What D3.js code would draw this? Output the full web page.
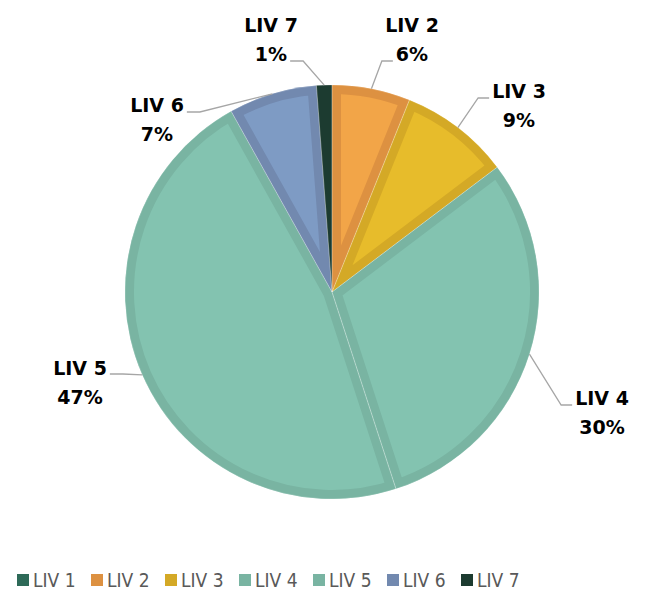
<!DOCTYPE html>
<html>
<head>
<meta charset="utf-8">
<script src="https://cdn.jsdelivr.net/npm/d3@7"></script>
<style>
  body { margin: 0; background: #fff; }
  svg { display: block; }
</style>
</head>
<body>
<div id="pie"></div>
<script>
// Chart data
const categories = ["LIV 1", "LIV 2", "LIV 3", "LIV 4", "LIV 5", "LIV 6", "LIV 7"];
const shares = [0, 6.1, 8.6, 30.3, 46.9, 6.9, 1.2];
const shareLabels = ["0%", "6%", "9%", "30%", "47%", "7%", "1%"];

// Colours: light fill and darker border per slice
const fillColors = ["#2e6a58", "#f2a548", "#e7bc2b", "#83c3b0", "#83c3b0", "#7e9bc4", "#1c3d31"];
const edgeColors = ["#2e6a58", "#dd9141", "#d4a926", "#79b4a2", "#79b4a2", "#7289af", "#1c3b30"];

// Label placement (text centre, first baseline, side of the leader)
const labelLayout = [
  null,
  { x: 412, y: 32, lineY: 61, row: 1, side: "left" },
  { x: 519, y: 98, lineY: 98, row: 0, side: "left" },
  { x: 602, y: 405, lineY: 405, row: 0, side: "left" },
  { x: 80, y: 375, lineY: 374, row: 0, side: "right" },
  { x: 157, y: 112, lineY: 112, row: 0, side: "right" },
  { x: 271, y: 32, lineY: 61, row: 1, side: "right" }
];

function buildPie() {
  const width = 646;
  const height = 590;
  const cx = 332, cy = 292, radius = 207;
  const border = 9;

  const svg = d3.select("#pie")
    .append("svg")
    .attr("width", width)
    .attr("height", height);

  const data = categories.map((c, i) => ({ name: c, value: shares[i], label: shareLabels[i], i: i }));

  const pie = d3.pie().sort(null).value((d) => d.value);
  const arc = d3.arc().innerRadius(0).outerRadius(radius);
  const arcs = pie(data).filter((d) => d.value > 0);

  const g = svg.append("g").attr("transform", `translate(${cx},${cy})`);
  const defs = svg.append("defs");

  defs.selectAll("clipPath")
    .data(arcs)
    .enter()
    .append("clipPath")
    .attr("id", (d) => "clip" + d.data.i)
    .append("path")
    .attr("d", arc);

  g.selectAll(".slice")
    .data(arcs)
    .enter()
    .append("path")
    .attr("class", "slice")
    .attr("d", arc)
    .attr("clip-path", (d) => `url(#clip${d.data.i})`)
    .style("fill", (d) => fillColors[d.data.i])
    .style("stroke", (d) => edgeColors[d.data.i])
    .style("stroke-width", border * 2)
    .style("stroke-linejoin", "miter");

  // thin separators between slices
  g.selectAll(".sep")
    .data(arcs)
    .enter()
    .append("path")
    .attr("class", "sep")
    .attr("d", arc)
    .style("fill", "none")
    .style("stroke", "#ffffff")
    .style("stroke-opacity", 0.3)
    .style("stroke-width", 0.7);

  // Data labels with leader lines
  const labels = svg.append("g")
    .style("font-family", "'DejaVu Sans', Verdana, sans-serif")
    .style("font-weight", "bold")
    .style("font-size", "19px")
    .style("fill", "#000");

  arcs.forEach((d) => {
    const lay = labelLayout[d.data.i];
    if (!lay) return;
    const t = labels.append("text").attr("text-anchor", "middle");
    const l1 = t.append("tspan").attr("x", lay.x).attr("y", lay.y).text(d.data.name);
    const l2 = t.append("tspan").attr("x", lay.x).attr("y", lay.y + 29).text(d.data.label);

    const rowNode = lay.row === 0 ? l1.node() : l2.node();
    const w = rowNode.getComputedTextLength();
    const attachX = lay.side === "left" ? lay.x - w / 2 - 3 : lay.x + w / 2 + 3;
    const elbowX = lay.side === "left" ? attachX - 11 : attachX + 13;

    const mid = (d.startAngle + d.endAngle) / 2;
    const ex = cx + radius * Math.sin(mid);
    const ey = cy - radius * Math.cos(mid);

    svg.append("path")
      .attr("d", d3.line()([[attachX, lay.lineY], [elbowX, lay.lineY], [ex, ey]]))
      .style("fill", "none")
      .style("stroke", "#a6a6a6")
      .style("stroke-width", 1.3);
  });

  // Legend
  const legendX = d3.scaleBand()
    .domain(categories)
    .range([17, 17 + 74 * categories.length]);

  const legend = svg.append("g")
    .attr("class", "legend")
    .selectAll("g")
    .data(categories)
    .enter()
    .append("g")
    .attr("transform", (d) => `translate(${legendX(d)},574)`);

  legend.append("rect")
    .attr("width", 12)
    .attr("height", 12)
    .style("fill", (d, i) => edgeColors[i]);

  legend.append("text")
    .attr("x", 16)
    .attr("y", 13)
    .style("font-family", "'Liberation Sans Narrow', 'DejaVu Sans Condensed', sans-serif")
    .style("font-size", "19px")
    .style("fill", "#595959")
    .text((d) => d);
}

window.onload = buildPie;
</script>
</body>
</html>
